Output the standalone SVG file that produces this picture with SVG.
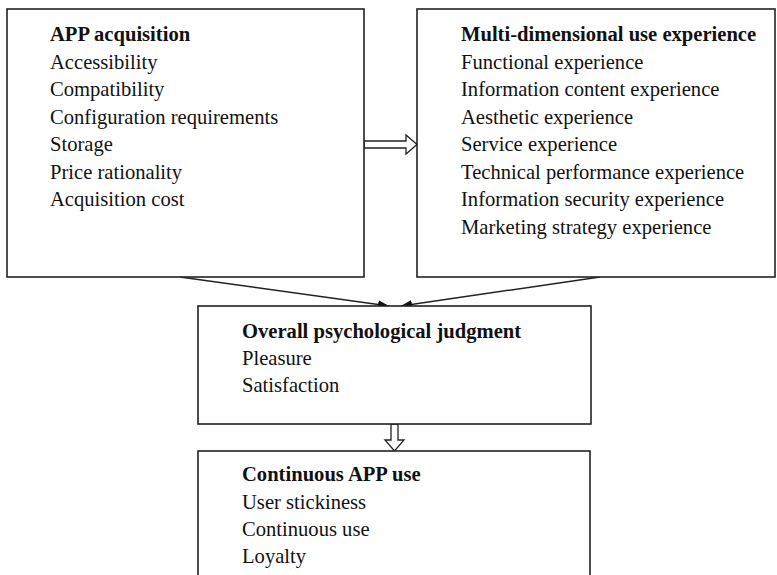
<svg xmlns="http://www.w3.org/2000/svg" width="777" height="575" viewBox="0 0 777 575">
<defs>
<style>
.box{fill:#fff;stroke:#222;stroke-width:1.6}
text{font-family:"Liberation Serif","Times New Roman",serif;font-size:20.6px;fill:#111}
.t{font-weight:bold}
.c{fill:none;stroke:#222;stroke-width:1.5}
.h{fill:#fff;stroke:#222;stroke-width:1.3}
</style>
<marker id="ah" viewBox="0 0 10 10" refX="10" refY="5" markerWidth="11" markerHeight="11" markerUnits="userSpaceOnUse" orient="auto">
<path d="M0,1 L10,5 L0,9 z" fill="#111"/>
</marker>
</defs>
<g id="connectors">
<line class="c" x1="180" y1="277" x2="389" y2="306" marker-end="url(#ah)"/>
<line class="c" x1="600" y1="277" x2="401" y2="306" marker-end="url(#ah)"/>
<path class="h" d="M364,141 L406,141 L406,135 L417,144.5 L406,154 L406,148 L364,148 z"/>
<path class="h" d="M391,424 L391,440 L385,440 L394.5,451 L404,440 L398,440 L398,424 z"/>
</g>
<g id="app-acquisition">
<rect class="box" x="7" y="9" width="357" height="268"/>
<text x="50" y="41" class="t">APP acquisition</text>
<text x="50" y="68.5">Accessibility</text>
<text x="50" y="96">Compatibility</text>
<text x="50" y="123.5">Configuration requirements</text>
<text x="50" y="151">Storage</text>
<text x="50" y="178.5">Price rationality</text>
<text x="50" y="206">Acquisition cost</text>
</g>
<g id="use-experience">
<rect class="box" x="417" y="9" width="358" height="268"/>
<text x="461" y="41" class="t">Multi-dimensional use experience</text>
<text x="461" y="68.5">Functional experience</text>
<text x="461" y="96">Information content experience</text>
<text x="461" y="123.5">Aesthetic experience</text>
<text x="461" y="151">Service experience</text>
<text x="461" y="178.5">Technical performance experience</text>
<text x="461" y="206">Information security experience</text>
<text x="461" y="233.5">Marketing strategy experience</text>
</g>
<g id="psychological-judgment">
<rect class="box" x="198" y="306" width="393" height="118"/>
<text x="242" y="338" class="t">Overall psychological judgment</text>
<text x="242" y="365">Pleasure</text>
<text x="242" y="392">Satisfaction</text>
</g>
<g id="continuous-use">
<rect class="box" x="198" y="451" width="392" height="140"/>
<text x="242" y="481" class="t">Continuous APP use</text>
<text x="242" y="509">User stickiness</text>
<text x="242" y="536">Continuous use</text>
<text x="242" y="563">Loyalty</text>
</g>
</svg>
